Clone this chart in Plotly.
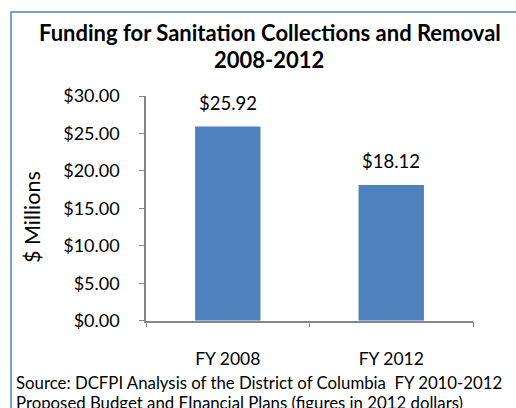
import plotly.graph_objects as go

categories = ["FY 2008", "FY 2012"]
values = [25.92, 18.12]
value_labels = ["$25.92", "$18.12"]
tick_vals = [0, 5, 10, 15, 20, 25, 30]
tick_text = ["$0.00", "$5.00", "$10.00", "$15.00", "$20.00", "$25.00", "$30.00"]
title_lines = ["Funding for Sanitation Collections and Removal", "2008-2012"]
y_title = "$ Millions"
source_lines = ["Source: DCFPI Analysis of the District of Columbia  FY 2010-2012",
                "Proposed Budget and FInancial Plans (figures in 2012 dollars)"]

W, H = 516, 408
FONT = "Lato, Carlito, Calibri, sans-serif"
BAR = "#4F81BD"
AX = "#868686"

def py(px):
    return (H - px) / H

def pxx(px):
    return px / W

fig = go.Figure()
fig.add_trace(go.Bar(x=categories, y=values, marker=dict(color=BAR, line=dict(width=0)),
                     width=0.4, hoverinfo="skip"))

annotations = []
# title
annotations.append(dict(text="<b>%s</b>" % title_lines[0], xref="paper", yref="paper",
                        x=pxx(270), y=py(32), xanchor="center", yanchor="middle",
                        showarrow=False, font=dict(family=FONT, size=22, color="#000000")))
annotations.append(dict(text="<b>%s</b>" % title_lines[1], xref="paper", yref="paper",
                        x=pxx(269), y=py(59), xanchor="center", yanchor="middle",
                        showarrow=False, font=dict(family=FONT, size=22, color="#000000")))
# data labels
for c, v, t in zip(categories, values, value_labels):
    annotations.append(dict(text=t, x=c, y=v, xref="x", yref="y", yanchor="middle",
                            xanchor="center", yshift=24, showarrow=False,
                            font=dict(family=FONT, size=18.5, color="#000000")))
# y title
annotations.append(dict(text=y_title, xref="paper", yref="paper", x=pxx(32), y=py(217),
                        xanchor="center", yanchor="middle", textangle=-90, showarrow=False,
                        font=dict(family=FONT, size=21.5, color="#000000")))
# source
for i, line in enumerate(source_lines):
    annotations.append(dict(text=line, xref="paper", yref="paper", x=pxx(14), y=py(382 + 20 * i),
                            xanchor="left", yanchor="middle", showarrow=False,
                            font=dict(family=FONT, size=16.8, color="#000000")))

fig.update_layout(
    width=W, height=H, autosize=False,
    margin=dict(l=0, r=0, t=0, b=0, pad=0),
    paper_bgcolor="#FFFFFF", plot_bgcolor="#FFFFFF",
    showlegend=False,
    annotations=annotations,
    shapes=[dict(type="rect", xref="paper", yref="paper", x0=pxx(11), x1=1.05,
                 y0=-0.05, y1=py(12), line=dict(color=BAR, width=1.5), fillcolor="rgba(0,0,0,0)")],
    xaxis=dict(domain=[pxx(146), pxx(473)], showline=True, linecolor=AX, linewidth=1.5,
               ticks="outside", tickson="boundaries", ticklen=5, tickcolor=AX,
               showgrid=False, zeroline=False, ticklabelstandoff=22, automargin=False,
               tickfont=dict(family=FONT, size=17.5, color="#000000")),
    yaxis=dict(domain=[py(320.7), py(96)], range=[0, 30], showline=True, linecolor=AX,
               linewidth=1.5, ticks="outside", ticklen=5, tickcolor=AX,
               tickvals=tick_vals, ticktext=tick_text, showgrid=False, zeroline=False,
               ticklabelstandoff=16, automargin=False,
               tickfont=dict(family=FONT, size=18, color="#000000")),
)

fig.write_html("out.html")
